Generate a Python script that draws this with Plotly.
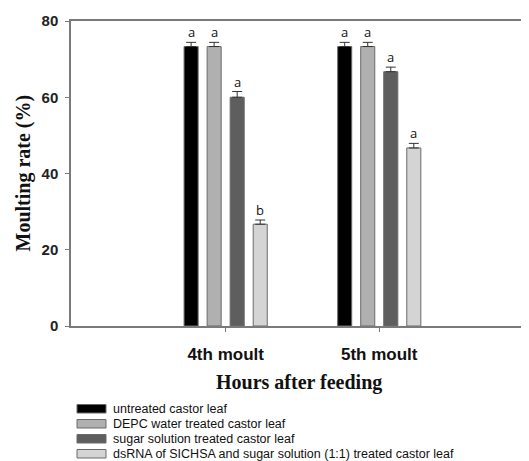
import plotly.graph_objects as go

categories = ["4th moult", "5th moult"]
series_names = [
    "untreated castor leaf",
    "DEPC water treated castor leaf",
    "sugar solution treated castor leaf",
    "dsRNA of SICHSA and sugar solution (1:1) treated castor leaf",
]
untreated = [73.3, 73.3]
depc = [73.3, 73.3]
sugar = [60.0, 66.7]
dsrna = [26.7, 46.7]
untreated_err = [1.1, 1.1]
depc_err = [1.1, 1.1]
sugar_err = [1.5, 1.2]
dsrna_err = [1.1, 1.2]
letters = [["a", "a"], ["a", "a"], ["a", "a"], ["b", "a"]]
y_ticks = [0, 20, 40, 60, 80]

values = [untreated, depc, sugar, dsrna]
errors = [untreated_err, depc_err, sugar_err, dsrna_err]
colors = ["#000000", "#b0b0b0", "#5e5e5e", "#d4d4d4"]

# the page body adds an 8px margin; work in screen pixels and shift
OFF = 8
W, H = 529 - OFF, 461 - OFF
plot_left, plot_top, plot_bottom = 71, 21, 326
L = plot_left - OFF
R = 0
T = plot_top - OFF
B = H - (plot_bottom - OFF)
pw, ph = W - L - R, H - T - B

def px_x(p):
    return (p - OFF - L) / pw

def px_y(p):
    return (H - B - (p - OFF)) / ph

fig = go.Figure()
n = len(values)
bargap = 0.4
slot = (1 - bargap) / n
for k in range(n):
    fig.add_trace(go.Bar(
        x=categories, y=values[k], name=series_names[k],
        marker=dict(color=colors[k], line=dict(color="#6a6a6a", width=1)),
        error_y=dict(type="data", symmetric=False, array=errors[k],
                     arrayminus=[0] * len(categories),
                     color="#333333", thickness=1, width=5),
        showlegend=False,
    ))

annotations = []
for k in range(n):
    for i in range(len(categories)):
        annotations.append(dict(
            x=i + (k - (n - 1) / 2) * slot, y=values[k][i] + errors[k][i],
            xref="x", yref="y", text=letters[k][i], showarrow=False,
            xanchor="center", yanchor="bottom", yshift=-1,
            font=dict(family="Open Sans", size=13, color="#111"),
        ))

annotations.append(dict(
    x=px_x(299), y=px_y(382), xref="paper", yref="paper",
    text="<b>Hours after feeding</b>", showarrow=False,
    xanchor="center", yanchor="middle",
    font=dict(family="Liberation Serif", size=20, color="#111"),
))
annotations.append(dict(
    x=px_x(23), y=px_y(173.5), xref="paper", yref="paper",
    text="<b>Moulting rate (%)</b>", showarrow=False, textangle=-90,
    xanchor="center", yanchor="middle",
    font=dict(family="Liberation Serif", size=20, color="#111"),
))

shapes = []
row_y = [409, 424, 439, 454]
for k in range(n):
    yc = row_y[k]
    shapes.append(dict(
        type="rect", xref="paper", yref="paper",
        x0=px_x(77), x1=px_x(106), y0=px_y(yc + 4), y1=px_y(yc - 4.5),
        fillcolor=colors[k], line=dict(color="#6a6a6a", width=1),
    ))
    annotations.append(dict(
        x=px_x(111), y=px_y(yc), xref="paper", yref="paper",
        text=series_names[k], showarrow=False,
        xanchor="left", yanchor="middle",
        font=dict(family="Liberation Sans", size=12.5, color="#111"),
    ))

fig.update_layout(
    width=W, height=H, autosize=False,
    margin=dict(l=L, r=R, t=T, b=B, pad=0),
    barmode="group", bargap=bargap, bargroupgap=0.39,
    plot_bgcolor="white", paper_bgcolor="white",
    annotations=annotations, shapes=shapes,
    xaxis=dict(
        range=[-1.007, 1.975], showgrid=False, zeroline=False,
        showline=True, mirror=True, linecolor="#7a7a7a", linewidth=1.5,
        ticks="outside", ticklen=4, tickcolor="#7a7a7a",
        tickfont=dict(family="Liberation Sans", size=17, color="#111"),
        tickvals=[0, 1], ticktext=["<b>" + c + "</b>" for c in categories],
        ticklabelstandoff=8,
    ),
    yaxis=dict(
        range=[0, 80], showgrid=False, zeroline=False,
        showline=True, linecolor="#7a7a7a", linewidth=1.5,
        ticks="outside", ticklen=4, tickcolor="#7a7a7a",
        tickvals=y_ticks, ticktext=["<b>%d</b>" % v for v in y_ticks],
        tickfont=dict(family="Liberation Sans", size=15, color="#222"),
        ticklabelstandoff=4,
    ),
)

fig.write_html("out.html", config={"responsive": False, "displayModeBar": False})
